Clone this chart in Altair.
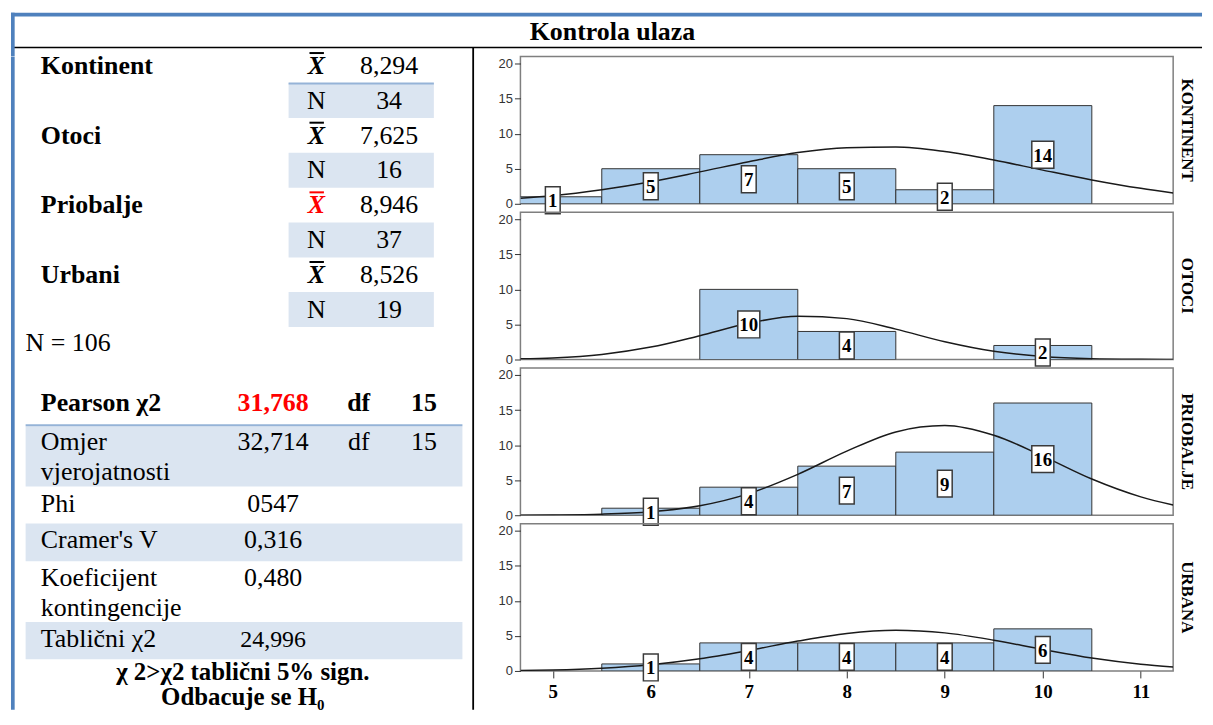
import altair as alt
import pandas as pd

# ---------------- content ----------------
title_text = "Kontrola ulaza"
group_names = ["Kontinent", "Otoci", "Priobalje", "Urbani"]
group_means = ["8,294", "7,625", "8,946", "8,526"]
group_ns = ["34", "16", "37", "19"]
highlight_group = "Priobalje"
mean_symbol = "X"
n_symbol = "N"
total_n_text = "N = 106"
pearson_label = "Pearson χ2"
pearson_value = "31,768"
df_label = "df"
pearson_df = "15"
stat_label_lines = [["Omjer", "vjerojatnosti"], ["Phi"], ["Cramer's V"],
                    ["Koeficijent", "kontingencije"], ["Tablični χ2"]]
stat_values = ["32,714", "0547", "0,316", "0,480", "24,996"]
stat_dfs = ["15", "", "", "", ""]
conclusion_lines = ["χ 2>χ2 tablični 5% sign.", "Odbacuje se H₀"]

panel_names = ["KONTINENT", "OTOCI", "PRIOBALJE", "URBANA"]
score_bins = [5, 6, 7, 8, 9, 10]
counts_kontinent = [1, 5, 7, 5, 2, 14]
counts_otoci = [0, 0, 10, 4, 0, 2]
counts_priobalje = [0, 1, 4, 7, 9, 16]
counts_urbana = [0, 1, 4, 4, 4, 6]
curve_x = [4.67, 5.0, 5.5, 6.0, 6.5, 7.0, 7.5, 8.0, 8.5, 9.0, 9.5, 10.0, 10.5, 11.0, 11.33]
curve_kontinent = [0.8, 1.15, 2.0, 3.15, 4.55, 6.0, 7.3, 8.0, 8.1, 7.45, 6.25, 4.8, 3.4, 2.2, 1.55]
curve_otoci = [0.1, 0.23, 0.72, 1.77, 3.4, 5.17, 6.18, 5.83, 4.33, 2.53, 1.17, 0.43, 0.12, 0.03, 0.01]
curve_priobalje = [0.01, 0.04, 0.15, 0.49, 1.35, 3.08, 5.83, 9.14, 11.88, 12.79, 11.4, 8.43, 5.16, 2.62, 1.46]
curve_urbana = [0.08, 0.15, 0.4, 0.9, 1.74, 2.93, 4.26, 5.35, 5.8, 5.43, 4.39, 3.07, 1.85, 0.97, 0.56]
x_tick_values = [5, 6, 7, 8, 9, 10, 11]
y_tick_values = [0, 5, 10, 15, 20]

# ---------------- layout / style ----------------
SERIF = "Liberation Serif"
SANS = "Liberation Sans"
BLUE = "#4F81BD"
LIGHT_BLUE_LINE = "#95B3D7"
SHADE = "#DBE5F1"
RED = "#FF0000"
BAR_FILL = "#ADCFEE"
BAR_STROKE = "#333333"
FRAME = "#7f7f7f"

PAGE_X0, PAGE_Y0 = 8, 8
HEADER_W, HEADER_H = 1197, 45.5
BODY_TOP = PAGE_Y0 + HEADER_H
LEFT_W = 465
GAP = 47
PANEL_W, PANEL_H, PANEL_GAP = 656, 148, 8.5
BODY_H = PANEL_H * 4 + PANEL_GAP * 3
PAGE_BOTTOM = 710
X_DOMAIN = [4.67, 11.33]
Y_DOMAIN = [0, 21]
BOX1 = "M-0.55,-1L0.55,-1L0.55,1L-0.55,1Z"
BOX2 = "M-0.82,-1L0.82,-1L0.82,1L-0.82,1Z"


def lx(p):
    return p - PAGE_X0


def ly(p):
    return p - BODY_TOP


def ident(w):
    return alt.Scale(domain=[0, w], range=[0, w], nice=False, zero=False)


# ---------------- header ----------------
hx, hy = ident(HEADER_W), ident(HEADER_H)
hdr_h = pd.DataFrame({"x": [0, 2], "x2": [HEADER_W, HEADER_W], "y": [3.8, 37],
                      "c": [BLUE, "black"], "w": [3.7, 1.5]})
hdr_v = pd.DataFrame({"x": [1.85], "y": [1.95], "y2": [HEADER_H], "c": [BLUE], "w": [3.7]})
header = alt.layer(
    alt.Chart(hdr_h).mark_rule().encode(
        x=alt.X("x:Q", scale=hx, axis=None), x2="x2:Q",
        y=alt.Y("y:Q", scale=hy, axis=None),
        color=alt.Color("c:N", scale=None), strokeWidth=alt.StrokeWidth("w:Q", scale=None)),
    alt.Chart(hdr_v).mark_rule().encode(
        x=alt.X("x:Q", scale=hx, axis=None),
        y=alt.Y("y:Q", scale=hy, axis=None), y2="y2:Q",
        color=alt.Color("c:N", scale=None), strokeWidth=alt.StrokeWidth("w:Q", scale=None)),
    alt.Chart(pd.DataFrame({"t": [title_text]})).mark_text(
        font=SERIF, fontWeight="bold", fontSize=26, align="center", baseline="alphabetic", color="black"
    ).encode(text="t:N", x=alt.value(604.5), y=alt.value(29)),
).properties(width=HEADER_W, height=HEADER_H)

# ---------------- left table ----------------
LABEL_X, XBAR_X, VAL_X = 38, 315, 388
TOTAL_X = 22.7
STAT_VAL_X, DF_X, DF_VAL_X = 271.5, 357.5, 423
CONCL_X = 241
GROUP_BASE = [71 + 70 * i for i in range(4)]
N_BASE = [b + 35 for b in GROUP_BASE]
TOTAL_BASE = 349.3
PEARSON_BASE = 410
STAT_BASES = [[449, 479.3], [511], [547.7], [585.7, 615.7], [646.7]]
STAT_SHADE = [(425, 485.7), None, (522.7, 560.7), None, (621.7, 659.3)]
CONCL_BASES = [680, 705]

texts = []


def add(text, xp, yp, weight="normal", style="normal", align="left", size=26, color="black"):
    texts.append(dict(text=text, x=lx(xp), y=ly(yp), weight=weight, style=style,
                      align=align, size=size, c=color))


over = []
rects = []
for i, g in enumerate(group_names):
    col = RED if g == highlight_group else "black"
    add(g, LABEL_X, GROUP_BASE[i], weight="bold")
    add(mean_symbol, XBAR_X, GROUP_BASE[i], weight="bold", style="italic", align="center", color=col)
    over.append(dict(x=lx(308), x2=lx(322.5), y=ly(GROUP_BASE[i] - 21), c=col))
    add(group_means[i], VAL_X, GROUP_BASE[i], align="center")
    add(n_symbol, XBAR_X, N_BASE[i], align="center")
    add(group_ns[i], VAL_X, N_BASE[i], align="center")
    rects.append(dict(x=lx(287), x2=lx(433), y=ly(N_BASE[i] - 25.8), y2=ly(N_BASE[i] + 9.4)))
add(total_n_text, TOTAL_X, TOTAL_BASE)
add(pearson_label, LABEL_X, PEARSON_BASE, weight="bold")
add(pearson_value, STAT_VAL_X, PEARSON_BASE, weight="bold", align="center", color=RED)
add(df_label, DF_X, PEARSON_BASE, weight="bold", align="center")
add(pearson_df, DF_VAL_X, PEARSON_BASE, weight="bold", align="center")
for i, lines in enumerate(stat_label_lines):
    for j, line in enumerate(lines):
        add(line, LABEL_X, STAT_BASES[i][j])
    add(stat_values[i], STAT_VAL_X, STAT_BASES[i][0], align="center",
        size=24 if i == len(stat_values) - 1 else 26)
    if stat_dfs[i]:
        add(df_label, DF_X, STAT_BASES[i][0], align="center")
        add(stat_dfs[i], DF_VAL_X, STAT_BASES[i][0], align="center")
    if STAT_SHADE[i]:
        rects.append(dict(x=lx(22.7), x2=lx(461.7), y=ly(STAT_SHADE[i][0]), y2=ly(STAT_SHADE[i][1])))
for k, line in enumerate(conclusion_lines):
    add(line, CONCL_X, CONCL_BASES[k], weight="bold", align="center", size=25)

tdf = pd.DataFrame(texts)
lxs, lys = ident(LEFT_W), ident(BODY_H)

left_layers = [
    alt.Chart(pd.DataFrame(rects)).mark_rect(color=SHADE).encode(
        x=alt.X("x:Q", scale=lxs, axis=None), x2="x2:Q",
        y=alt.Y("y:Q", scale=lys, axis=None), y2="y2:Q"),
    alt.Chart(pd.DataFrame({"x": [lx(287), lx(22.7)], "x2": [lx(433), lx(461.7)],
                            "y": [ly(80.7), ly(424)]})).mark_rule(
        color=LIGHT_BLUE_LINE, strokeWidth=2).encode(
        x=alt.X("x:Q", scale=lxs, axis=None), x2="x2:Q",
        y=alt.Y("y:Q", scale=lys, axis=None)),
    alt.Chart(pd.DataFrame({"x": [1.85, lx(472.5)], "y": [0, -8.5],
                            "y2": [ly(PAGE_BOTTOM), ly(PAGE_BOTTOM)],
                            "c": [BLUE, "black"], "w": [3.7, 1.8]})).mark_rule().encode(
        x=alt.X("x:Q", scale=lxs, axis=None),
        y=alt.Y("y:Q", scale=lys, axis=None), y2="y2:Q",
        color=alt.Color("c:N", scale=None), strokeWidth=alt.StrokeWidth("w:Q", scale=None)),
    alt.Chart(pd.DataFrame(over)).mark_rule(strokeWidth=2).encode(
        x=alt.X("x:Q", scale=lxs, axis=None), x2="x2:Q",
        y=alt.Y("y:Q", scale=lys, axis=None),
        color=alt.Color("c:N", scale=None)),
]
for (w, s, a), sub in tdf.groupby(["weight", "style", "align"]):
    left_layers.append(
        alt.Chart(sub.reset_index(drop=True)).mark_text(
            font=SERIF, fontWeight=w, fontStyle=s, align=a, baseline="alphabetic"
        ).encode(
            x=alt.X("x:Q", scale=lxs, axis=None),
            y=alt.Y("y:Q", scale=lys, axis=None),
            text="text:N",
            color=alt.Color("c:N", scale=None),
            size=alt.Size("size:Q", scale=None),
        )
    )
left = alt.layer(*left_layers).properties(width=LEFT_W, height=BODY_H)


# ---------------- histogram panels ----------------
def panel(name, counts, curve, show_x):
    hist = pd.DataFrame({"score": score_bins, "count": counts})
    hist = hist[hist["count"] > 0].reset_index(drop=True)
    line_df = pd.DataFrame({"score": curve_x, "density": curve})
    xs = alt.Scale(domain=X_DOMAIN, nice=False, zero=False)
    ys = alt.Scale(domain=Y_DOMAIN, nice=False, zero=False)
    if show_x:
        xaxis = alt.Axis(values=x_tick_values, labelFont=SERIF, labelFontWeight="bold",
                         labelFontSize=19, labelColor="black", tickColor="#333333",
                         tickSize=7, domain=False, grid=False, title="", labelPadding=5,
                         labelFlush=False, format="d")
    else:
        xaxis = None
    yaxis = alt.Axis(values=y_tick_values, labelFont=SANS, labelFontSize=13,
                     labelColor="#333333", tickColor="#333333", tickSize=6,
                     domain=False, grid=False, title="", labelPadding=2,
                     labelFlush=False, format="d")

    def X(f):
        return alt.X(f, scale=xs, axis=xaxis)

    def Y(f):
        return alt.Y(f, scale=ys, axis=yaxis)

    bars = alt.Chart(hist).transform_calculate(
        lo="datum.score - 0.5", hi="datum.score + 0.5"
    ).mark_bar(clip=True, fill=BAR_FILL, stroke=BAR_STROKE, strokeWidth=1).encode(
        x=X("lo:Q"), x2="hi:Q", y=Y("count:Q"), y2=alt.datum(0))
    line = alt.Chart(line_df).mark_line(
        clip=True, color="#1a1a1a", strokeWidth=1.5, interpolate="monotone"
    ).encode(x=X("score:Q"), y=Y("density:Q"))
    lab = alt.Chart(hist).transform_calculate(mid="datum.count / 2")
    box1 = lab.transform_filter("datum.count < 10").mark_point(
        shape=BOX1, size=729, filled=True, fill="white", stroke="#3a3a3a",
        strokeWidth=1.5, opacity=1).encode(x=X("score:Q"), y=Y("mid:Q"))
    box2 = lab.transform_filter("datum.count >= 10").mark_point(
        shape=BOX2, size=729, filled=True, fill="white", stroke="#3a3a3a",
        strokeWidth=1.5, opacity=1).encode(x=X("score:Q"), y=Y("mid:Q"))
    txt = lab.mark_text(font=SERIF, fontWeight="bold", fontSize=19, color="black",
                        baseline="middle", align="center", dy=1).encode(
        x=X("score:Q"), y=Y("mid:Q"), text="count:Q")
    pname = alt.Chart(pd.DataFrame({"name": [name]})).mark_text(
        font=SERIF, fontWeight="bold", fontSize=17, angle=90, align="center",
        baseline="middle", color="black"
    ).encode(text="name:N", x=alt.value(PANEL_W + 14), y=alt.value(PANEL_H / 2))
    return alt.layer(bars, line, box1, box2, txt, pname).properties(
        width=PANEL_W, height=PANEL_H,
        view=alt.ViewBackground(stroke=FRAME, strokeWidth=1.5))


all_counts = [counts_kontinent, counts_otoci, counts_priobalje, counts_urbana]
all_curves = [curve_kontinent, curve_otoci, curve_priobalje, curve_urbana]
panels = [panel(panel_names[i], all_counts[i], all_curves[i], i == 3) for i in range(4)]
right = alt.vconcat(*panels, spacing=PANEL_GAP, bounds="flush")
body = alt.hconcat(left, right, spacing=GAP, bounds="flush")
chart = alt.vconcat(header, body, spacing=0, bounds="flush").properties(
    padding=0
).configure_view(stroke="transparent")

chart.save("out.html", embed_options={"renderer": "svg", "actions": False})
